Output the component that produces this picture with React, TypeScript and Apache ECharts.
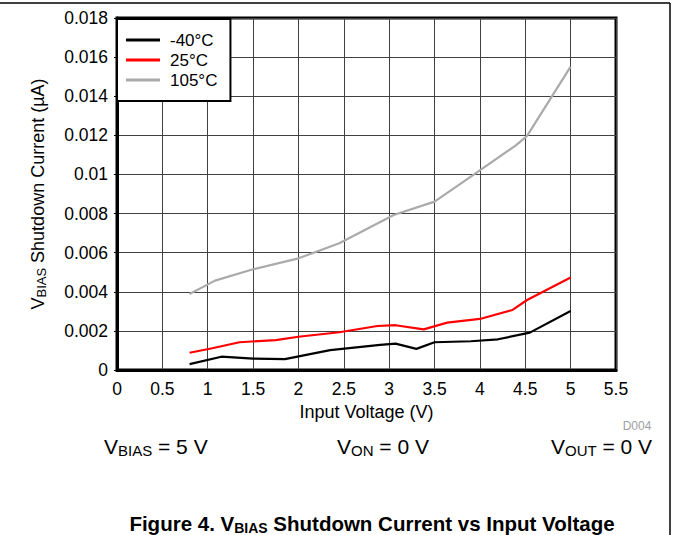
import React, { useEffect, useRef } from "react";
import * as echarts from "echarts";

const xTickLabels = ["0", "0.5", "1", "1.5", "2", "2.5", "3", "3.5", "4", "4.5", "5", "5.5"];
const yTickLabels = ["0", "0.002", "0.004", "0.006", "0.008", "0.01", "0.012", "0.014", "0.016", "0.018"];
const seriesNames = ["-40°C", "25°C", "105°C"];
const seriesColors = ["#000000", "#ff0000", "#aaaaaa"];

const xM40 = [0.8, 1.15, 1.5, 1.85, 2.35, 2.9, 3.07, 3.3, 3.5, 3.9, 4.2, 4.55, 5.0];
const yM40 = [0.0003, 0.00068, 0.00058, 0.00056, 0.00102, 0.00128, 0.00135, 0.00108, 0.00142, 0.00147, 0.00157, 0.00191, 0.00302];

const x25 = [0.8, 1.05, 1.35, 1.75, 2.0, 2.45, 2.87, 3.07, 3.38, 3.64, 4.0, 4.36, 4.52, 5.0];
const y25 = [0.00088, 0.00111, 0.00142, 0.00153, 0.0017, 0.00193, 0.00225, 0.00229, 0.00208, 0.00242, 0.00261, 0.00307, 0.00358, 0.00473];

const x105 = [0.8, 1.08, 1.5, 2.0, 2.45, 3.05, 3.5, 3.9, 4.4, 4.52, 5.0];
const y105 = [0.00389, 0.00457, 0.00515, 0.00571, 0.00648, 0.00793, 0.00861, 0.00989, 0.0115, 0.01197, 0.01551];

const FONT = "'Liberation Sans', Arial, sans-serif";

function pairs(xs: number[], ys: number[]) {
  return xs.map((x, i) => [x, ys[i]]);
}

export default function App() {
  const ref = useRef<HTMLDivElement>(null);
  useEffect(() => {
    if (!ref.current) return;
    const chart = echarts.init(ref.current, undefined, { renderer: "svg" });
    const data = [pairs(xM40, yM40), pairs(x25, y25), pairs(x105, y105)];
    const sub = (size: number, bold = false) => ({
      n: { fontFamily: FONT, fontSize: size, fontWeight: bold ? "bold" : "normal", fill: "#000" },
      s: { fontFamily: FONT, fontSize: Math.round(size * 0.7), fontWeight: bold ? "bold" : "normal", fill: "#000", padding: [Math.round(size * 0.45), 0, 0, 0] },
    });
    chart.setOption({
      animation: false,
      backgroundColor: "#ffffff",
      textStyle: { fontFamily: FONT },
      grid: {
        left: 117,
        right: 57,
        top: 18,
        bottom: 165,
        show: true,
        borderColor: "#000",
        borderWidth: 3,
        backgroundColor: "transparent",
      },
      legend: {
        orient: "vertical",
        left: 117,
        top: 19,
        data: seriesNames,
        icon: "rect",
        itemWidth: 34,
        itemHeight: 3,
        itemGap: 0,
        padding: [11, 13, 11, 9],
        backgroundColor: "#ffffff",
        borderColor: "#000",
        borderWidth: 2,
        borderRadius: 0,
        textStyle: {
          fontFamily: FONT,
          fontSize: 17,
          color: "#000",
          lineHeight: 20,
          padding: [0, 0, 0, 5],
        },
        z: 10,
      },
      xAxis: {
        type: "value",
        min: 0,
        max: 5.5,
        interval: 0.5,
        name: "Input Voltage (V)",
        nameLocation: "middle",
        nameGap: 33,
        nameTextStyle: { fontFamily: FONT, fontSize: 18, color: "#000" },
        axisLine: { show: true, onZero: false, lineStyle: { color: "#000", width: 3 } },
        axisTick: { show: false },
        axisLabel: {
          fontFamily: FONT,
          fontSize: 17.5,
          color: "#000",
          margin: 10,
          formatter: (v: number) => xTickLabels[Math.round(v / 0.5)] ?? "",
        },
        splitLine: { show: true, lineStyle: { color: "#404040", width: 1 } },
      },
      yAxis: {
        type: "value",
        min: 0,
        max: 0.018,
        interval: 0.002,
        name: "{v|V}{s|BIAS}{v| Shutdown Current (µA)}",
        nameLocation: "middle",
        nameRotate: 90,
        nameGap: 69,
        nameTextStyle: {
          fontFamily: FONT,
          fontSize: 18,
          color: "#000",
          rich: {
            v: { fontFamily: FONT, fontSize: 18, color: "#000" },
            s: { fontFamily: FONT, fontSize: 13, color: "#000", padding: [7, 0, 0, 0] },
          },
        },
        axisLine: { show: true, onZero: false, lineStyle: { color: "#000", width: 3 } },
        axisTick: { show: true, length: 3, lineStyle: { color: "#000", width: 1 } },
        axisLabel: {
          fontFamily: FONT,
          fontSize: 17.5,
          color: "#000",
          margin: 9,
          formatter: (v: number) => yTickLabels[Math.round(v / 0.002)] ?? "",
        },
        splitLine: { show: true, lineStyle: { color: "#404040", width: 1 } },
      },
      series: seriesNames.map((name, i) => ({
        name,
        type: "line",
        data: data[i],
        showSymbol: false,
        symbol: "none",
        color: seriesColors[i],
        lineStyle: { color: seriesColors[i], width: 2.2 },
        z: 3,
      })),
      graphic: [
        { type: "line", shape: { x1: 0, y1: 3, x2: 670, y2: 3 }, style: { stroke: "#000", lineWidth: 1.5 } },
        { type: "line", shape: { x1: 670, y1: 3, x2: 670, y2: 535 }, style: { stroke: "#000", lineWidth: 1.5 } },
        {
          type: "text",
          x: 637,
          y: 426,
          style: { text: "D004", fontFamily: FONT, fontSize: 12, fill: "#a0a0a0", align: "center", verticalAlign: "middle" },
        },
        {
          type: "text",
          x: 104,
          y: 446,
          style: { text: "{n|V}{s|BIAS}{n| = 5 V}", align: "left", verticalAlign: "middle", rich: sub(21) },
        },
        {
          type: "text",
          x: 337,
          y: 446,
          style: { text: "{n|V}{s|ON}{n| = 0 V}", align: "left", verticalAlign: "middle", rich: sub(21) },
        },
        {
          type: "text",
          x: 551,
          y: 446,
          style: { text: "{n|V}{s|OUT}{n| = 0 V}", align: "left", verticalAlign: "middle", rich: sub(21) },
        },
        {
          type: "text",
          x: 372,
          y: 523,
          style: {
            text: "{n|Figure 4. V}{s|BIAS}{n| Shutdown Current vs Input Voltage}",
            align: "center",
            verticalAlign: "middle",
            rich: sub(20.5, true),
          },
        },
      ],
    });
    return () => chart.dispose();
  }, []);
  return (
    <div
      ref={ref}
      style={{ position: "fixed", left: 0, top: 0, width: 673, height: 535, background: "#fff" }}
    />
  );
}
